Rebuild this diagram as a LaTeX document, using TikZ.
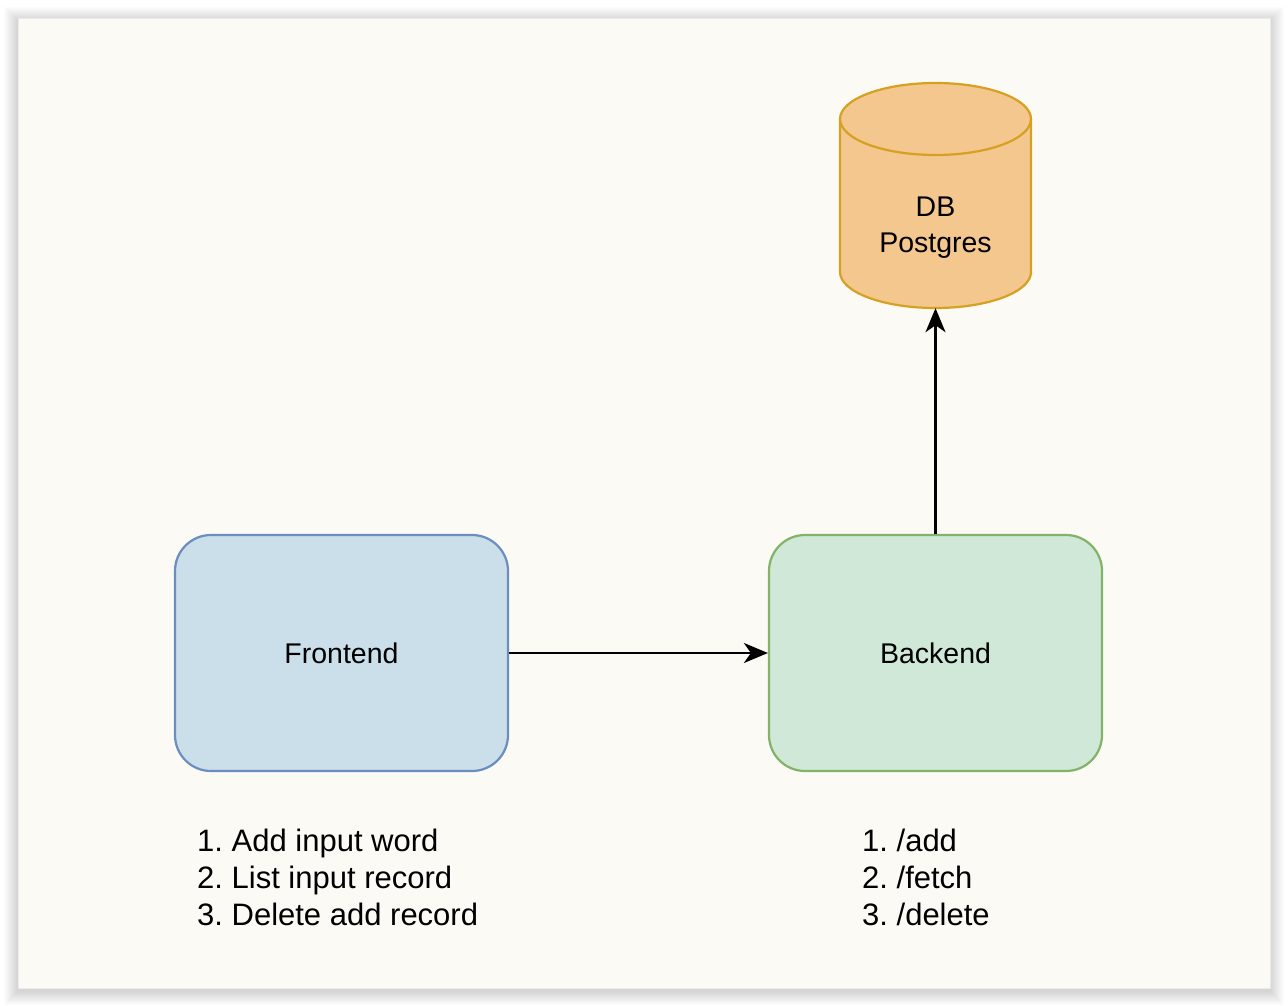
\documentclass[tikz,border=0pt]{standalone}
\usepackage{fontspec}
\setmainfont{Liberation Sans}
\usetikzlibrary{arrows.meta}
\definecolor{cardbg}{HTML}{FBFAF5}
\definecolor{feFill}{HTML}{CADFEA}
\definecolor{feDraw}{HTML}{6C8EBF}
\definecolor{beFill}{HTML}{CFE8D7}
\definecolor{beDraw}{HTML}{82B366}
\definecolor{dbFill}{HTML}{F4C78F}
\definecolor{dbDraw}{HTML}{D6A020}
\tikzset{
  box/.style={rounded corners=36pt, line width=2.2pt, minimum width=333pt, minimum height=236pt, font=\fontsize{28.5}{34}\selectfont, inner sep=0pt},
  conn/.style={line width=2.4pt, -{Stealth[length=24pt,width=20pt,inset=7pt]}},
  listtxt/.style={font=\fontsize{31}{37}\selectfont, align=left, anchor=north west, inner sep=0pt},
}
\begin{document}
\frenchspacing
\begin{tikzpicture}[x=1pt,y=-1pt]
\useasboundingbox (0,0) rectangle (1288,1006);
\fill[white] (0,0) rectangle (1288,1006);
% shadow
\foreach \i in {1,...,14}{
  \fill[black, opacity=0.012] (18-\i,18-\i+3) rectangle (1270+\i,988+\i+3);
}
\fill[cardbg] (18,18) rectangle (1270,988);
\draw[white!92!black, line width=0.8pt] (18,18) rectangle (1270,988);

% nodes
\node[box, draw=feDraw, fill=feFill] (fe) at (341.5,653) {Frontend};
\node[box, draw=beDraw, fill=beFill] (be) at (935.5,653) {Backend};

% cylinder
\fill[dbFill] (840,119) -- (840,272) arc[start angle=180, end angle=0, x radius=95.5, y radius=36]
  -- (1031,119) arc[start angle=0, end angle=-180, x radius=95.5, y radius=36] -- cycle;
\draw[dbDraw, line width=2.2pt] (840,119) -- (840,272) arc[start angle=180, end angle=0, x radius=95.5, y radius=36]
  -- (1031,119) arc[start angle=0, end angle=-180, x radius=95.5, y radius=36] -- cycle;
\draw[dbDraw, line width=2.2pt] (840,119) arc[start angle=180, end angle=0, x radius=95.5, y radius=36];
\node[minimum width=191pt, minimum height=225pt, inner sep=0pt] (db) at (935.5,195.5) {};
\node[font=\fontsize{28.5}{36}\selectfont, align=center, inner sep=0pt] (dbtxt) at (935.5,228) {DB\\Postgres};

% connectors
\draw[conn] (fe.east) -- (be.west);
\draw[conn] (be.north) -- (db.south);

% lists
\node[listtxt] (felist) at (197,829) {1. Add input word\\2. List input record\\3. Delete add record};
\node[listtxt] (belist) at (862,829) {1. /add\\2. /fetch\\3. /delete};
\end{tikzpicture}
\end{document}
